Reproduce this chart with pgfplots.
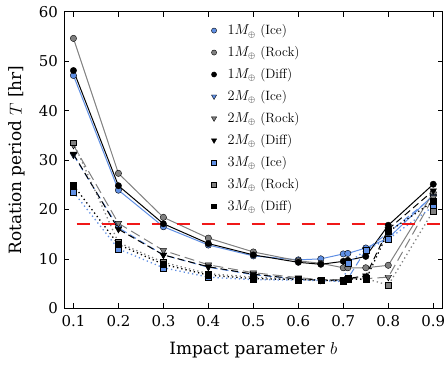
\documentclass[border=0pt]{standalone}
\usepackage{fontspec}
\setmainfont{DejaVu Serif}
\usepackage{pgfplots}
\pgfplotsset{compat=1.18}
\usepackage{pgfplotstable}
\definecolor{iceblue}{HTML}{5F8FE4}
\definecolor{rockgray}{HTML}{808080}
\definecolor{dashred}{HTML}{F01818}
\newcommand{\lm}{\fontencoding{TU}\fontfamily{lmr}\selectfont}
\pgfplotsset{lgmark/.style={only marks, legend image code/.code={\path (0cm,0cm) (0.6cm,0cm); \draw[##1] plot coordinates {(0.2cm,0cm)};}}}
\pgfplotstableread{
b     MIce  MRock MDiff TIce  TRock TDiff SIce  SRock SDiff
0.10  47.1  54.6  48.1  31.0  33.0  31.2  23.5  33.5  24.9
0.20  23.9  27.3  24.8  16.3  17.2  16.0  12.0  13.3  12.9
0.30  16.5  18.4  17.1  10.8  11.7  10.8  8.2   9.3   8.9
0.40  12.8  14.2  13.1  8.3   8.8   8.4   6.3   7.0   6.7
0.50  10.6  11.4  10.8  6.8   7.2   6.9   5.8   6.3   6.0
0.60  9.8   9.6   9.3   5.9   6.2   5.9   5.7   5.9   5.8
0.65  10.0  9.1   8.9   5.7   5.8   5.7   5.6   5.7   5.7
0.70  11.0  8.2   9.5   5.6   5.8   5.7   5.4   5.7   5.5
0.71  11.1  8.2   9.7   6.0   6.0   6.0   9.1   5.9   6.0
0.75  12.2  8.2   10.5  11.8  6.0   6.6   11.8  6.0   5.8
0.80  14.2  8.7   16.8  15.3  6.3   16.0  14.0  4.7   15.5
0.90  22.9  23.4  25.1  22.6  22.4  23.8  20.6  19.7  21.6
}\data
\begin{document}
\begin{tikzpicture}
\begin{axis}[
  name=ax,
  scale only axis, width=378.7bp, height=296.6bp,
  xmin=0.079, xmax=0.921, ymin=0, ymax=60,
  xtick={0.1,0.2,...,0.9}, ytick={0,10,...,60},
  xticklabel style={/pgf/number format/fixed, /pgf/number format/precision=1, /pgf/number format/fixed zerofill, yshift=-4bp},
  yticklabel style={xshift=-2.5bp},
  /pgf/number format/assume math mode=true,
  tick label style={font=\fontsize{15}{17}\selectfont},
  label style={font=\fontsize{17}{20}\selectfont},
  xlabel={Impact parameter $b$}, ylabel={Rotation period $T$ [hr]},
  xlabel style={at={(axis description cs:0.5,-0.1406)}, anchor=center},
  ylabel style={at={(axis description cs:-0.124,0.5)}, anchor=center},
  tick align=inside, major tick length=5bp, minor tick num=0,
  xtick pos=both, ytick pos=both,
  axis line style={line width=0.8pt}, tick style={line width=0.7pt, black},
  legend style={at={(axis cs:0.3925,58.2)}, anchor=north west, draw=none, fill=none,
    font=\lm\fontsize{13.5}{15}\selectfont, row sep=6.4bp, cells={anchor=west}},
  legend cell align=left,
]
% 1M (solid)
\addplot[forget plot, iceblue, line width=1pt, mark=*, mark size=3.2, mark options={solid, fill=iceblue, draw=black, line width=0.4pt}] table[x=b,y=MIce]{\data};
\addplot[forget plot, rockgray, line width=1pt, mark=*, mark size=3.2, mark options={solid, fill=rockgray, draw=black, line width=0.4pt}] table[x=b,y=MRock]{\data};
\addplot[forget plot, black, line width=1pt, mark=*, mark size=3.2, mark options={solid, fill=black, draw=black, line width=0.4pt}] table[x=b,y=MDiff]{\data};
% 2M (dashed)
\addplot[forget plot, iceblue, line width=1pt, dash pattern=on 7bp off 4bp, mark=triangle*, mark size=3.8, mark options={solid, rotate=180, fill=iceblue, draw=black, line width=0.4pt}] table[x=b,y=TIce]{\data};
\addplot[forget plot, rockgray, line width=1pt, dash pattern=on 10bp off 5bp, mark=triangle*, mark size=3.8, mark options={solid, rotate=180, fill=rockgray, draw=black, line width=0.4pt}] table[x=b,y=TRock]{\data};
\addplot[forget plot, black, line width=1pt, dash pattern=on 7bp off 4bp, mark=triangle*, mark size=3.8, mark options={solid, rotate=180, fill=black, draw=black, line width=0.4pt}] table[x=b,y=TDiff]{\data};
% 3M (dotted)
\addplot[forget plot, iceblue, line width=1.3pt, dash pattern=on 1.3bp off 3bp, mark=square*, mark size=3, mark options={solid, fill=iceblue, draw=black, line width=0.4pt}] table[x=b,y=SIce]{\data};
\addplot[forget plot, rockgray, line width=1.3pt, dash pattern=on 1.3bp off 3bp, mark=square*, mark size=3, mark options={solid, fill=rockgray, draw=black, line width=0.4pt}] table[x=b,y=SRock]{\data};
\addplot[forget plot, black, line width=1.3pt, dash pattern=on 1.3bp off 3bp, mark=square*, mark size=3, mark options={solid, fill=black, draw=black, line width=0.4pt}] table[x=b,y=SDiff]{\data};
% reference line
\addplot[forget plot, dashred, line width=1.6pt, dash pattern=on 13.3bp off 11.7bp] coordinates {(0.107,17) (0.921,17)};
% legend
\addlegendimage{lgmark, mark=*, mark size=2.6, mark options={fill=iceblue, draw=black, line width=0.4pt}}
\addlegendentry{$1M_\oplus$ (Ice)}
\addlegendimage{lgmark, mark=*, mark size=2.6, mark options={fill=rockgray, draw=black, line width=0.4pt}}
\addlegendentry{$1M_\oplus$ (Rock)}
\addlegendimage{lgmark, mark=*, mark size=2.6, mark options={fill=black, draw=black, line width=0.4pt}}
\addlegendentry{$1M_\oplus$ (Diff)}
\addlegendimage{lgmark, mark=triangle*, mark size=3, mark options={rotate=180, fill=iceblue, draw=black, line width=0.4pt}}
\addlegendentry{$2M_\oplus$ (Ice)}
\addlegendimage{lgmark, mark=triangle*, mark size=3, mark options={rotate=180, fill=rockgray, draw=black, line width=0.4pt}}
\addlegendentry{$2M_\oplus$ (Rock)}
\addlegendimage{lgmark, mark=triangle*, mark size=3, mark options={rotate=180, fill=black, draw=black, line width=0.4pt}}
\addlegendentry{$2M_\oplus$ (Diff)}
\addlegendimage{lgmark, mark=square*, mark size=2.4, mark options={fill=iceblue, draw=black, line width=0.4pt}}
\addlegendentry{$3M_\oplus$ (Ice)}
\addlegendimage{lgmark, mark=square*, mark size=2.4, mark options={fill=rockgray, draw=black, line width=0.4pt}}
\addlegendentry{$3M_\oplus$ (Rock)}
\addlegendimage{lgmark, mark=square*, mark size=2.4, mark options={fill=black, draw=black, line width=0.4pt}}
\addlegendentry{$3M_\oplus$ (Diff)}
\end{axis}
\pgfresetboundingbox
\path[use as bounding box] ([xshift=-64bp,yshift=-57.7bp]ax.south west) rectangle ([xshift=3.3bp,yshift=11.7bp]ax.north east);
\end{tikzpicture}
\end{document}
